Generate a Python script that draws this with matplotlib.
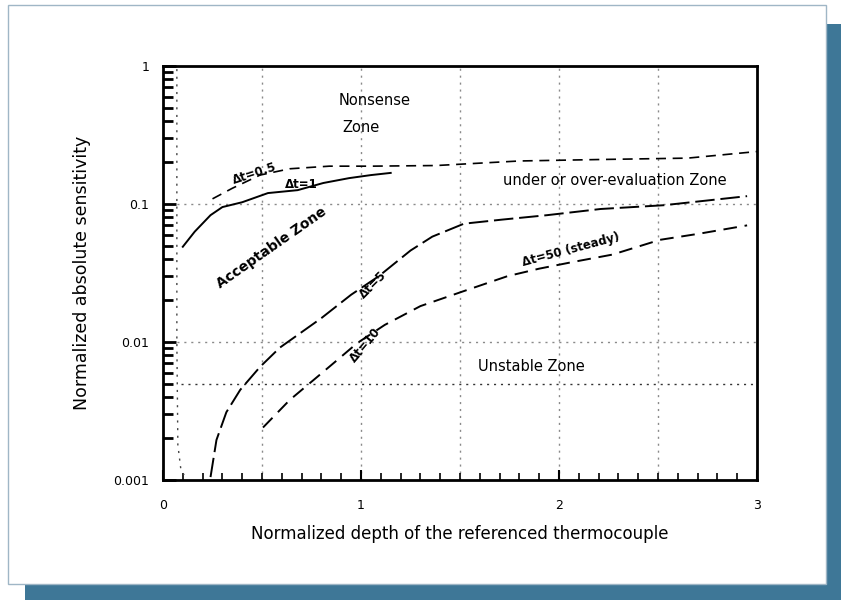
import numpy as np
import matplotlib
matplotlib.use("Agg")
import matplotlib.pyplot as plt
from matplotlib.patches import Rectangle
from matplotlib.ticker import FixedLocator, NullFormatter, MultipleLocator

# sensitivity curves: normalised depth -> normalised absolute sensitivity
x_c0 = [0.07, 0.07, 0.07, 0.075, 0.09, 0.12]
y_c0 = [0.95, 0.1, 0.01, 0.0018, 0.0012, 0.001]

x_c1 = [0.10, 0.16, 0.24, 0.30, 0.40, 0.53, 0.68, 0.81, 0.94, 1.05, 1.15]
y_c1 = [0.049, 0.063, 0.083, 0.095, 0.103, 0.12, 0.126, 0.142, 0.154, 0.162, 0.168]

x_c2 = [0.25, 0.35, 0.49, 0.64, 0.84, 1.05, 1.38, 1.8, 2.2, 2.65, 3.0]
y_c2 = [0.109, 0.13, 0.162, 0.18, 0.188, 0.188, 0.19, 0.205, 0.21, 0.215, 0.24]

x_c3 = [0.24, 0.27, 0.32, 0.39, 0.49, 0.59, 0.80, 0.95, 1.09, 1.25, 1.36, 1.52,
        1.71, 1.94, 2.21, 2.53, 2.95]
y_c3 = [0.00105, 0.00195, 0.0031, 0.0045, 0.0066, 0.0091, 0.0149, 0.022, 0.030,
        0.046, 0.058, 0.072, 0.077, 0.083, 0.092, 0.098, 0.114]

x_c4 = [0.505, 0.64, 0.78, 0.88, 0.98, 1.12, 1.30, 1.52, 1.74, 1.90, 2.07, 2.27,
        2.51, 2.71, 2.95]
y_c4 = [0.0024, 0.0038, 0.0056, 0.0074, 0.0098, 0.0133, 0.0182, 0.0234, 0.030,
        0.034, 0.038, 0.043, 0.055, 0.061, 0.070]

unstable_limit = 0.005

W, H = 843, 600
fig = plt.figure(figsize=(W / 100, H / 100), dpi=100)
fig.patch.set_facecolor("white")

# panel with drop shadow
shadow = "#3e7797"
fig.patches.append(Rectangle((826 / W, 0), 15 / W, 1 - 24 / H, transform=fig.transFigure,
                             facecolor=shadow, edgecolor="none", zorder=0))
fig.patches.append(Rectangle((25 / W, 0), 816 / W, 16 / H, transform=fig.transFigure,
                             facecolor=shadow, edgecolor="none", zorder=0))
fig.patches.append(Rectangle((8 / W, 16 / H), 818 / W, 1 - 21 / H, transform=fig.transFigure,
                             facecolor="white", edgecolor="#9fb6c6", lw=1, zorder=1))

ax = fig.add_axes([163 / W, 1 - 480 / H, 594 / W, 414 / H])
ax.set_zorder(2)
ax.set_yscale("log")
ax.set_xlim(0, 3)
ax.set_ylim(0.001, 1)

for s in ax.spines.values():
    s.set_linewidth(2)

# grid
for gx in [0.5, 1.0, 1.5, 2.0, 2.5]:
    ax.axvline(gx, color="#8a8a8a", lw=1, ls=(0, (1.5, 3.5)), zorder=1)
for gy in [0.1, 0.01]:
    ax.axhline(gy, color="#8a8a8a", lw=1, ls=(0, (1.5, 3.5)), zorder=1)
ax.axhline(unstable_limit, xmin=0.03, color="#333333", lw=1, ls=(0, (1.5, 3.5)), zorder=1)

# curves
ax.plot(x_c0, y_c0, color="#444444", lw=1, ls=(0, (1.5, 4)))
ax.plot(x_c1, y_c1, color="black", lw=1.4)
ax.plot(x_c2, y_c2, color="black", lw=1.2, ls=(0, (6, 4)))
ax.plot(x_c3, y_c3, color="black", lw=1.4, ls=(0, (10, 3)))
ax.plot(x_c4, y_c4, color="black", lw=1.4, ls=(0, (7, 4)))

# ticks
ax.yaxis.set_major_locator(FixedLocator([0.001, 0.01, 0.1, 1]))
ax.set_yticklabels(["0.001", "0.01", "0.1", "1"])
minor = [m * 10.0 ** e for e in (-3, -2, -1) for m in range(2, 10)]
ax.yaxis.set_minor_locator(FixedLocator(minor))
ax.yaxis.set_minor_formatter(NullFormatter())
ax.xaxis.set_major_locator(FixedLocator([0, 1, 2, 3]))
ax.xaxis.set_minor_locator(MultipleLocator(0.1))
ax.tick_params(axis="both", which="both", direction="in", top=False, right=False)
ax.tick_params(axis="y", which="major", length=9, width=2, labelsize=9, pad=10)
ax.tick_params(axis="y", which="minor", length=7, width=2)
ax.tick_params(axis="x", which="major", length=7, width=1.5, labelsize=9, pad=14)
ax.tick_params(axis="x", which="minor", length=5, width=1.2)

ax.set_xlabel("Normalized depth of the referenced thermocouple", fontsize=12, labelpad=9)
ax.set_ylabel("Normalized absolute sensitivity", fontsize=12.5, labelpad=16)

# zone labels
ax.text(1.07, 0.56, "Nonsense", fontsize=10.5, ha="center", va="center")
ax.text(1.0, 0.36, "Zone", fontsize=10.5, ha="center", va="center")
ax.text(2.28, 0.149, "under or over-evaluation Zone", fontsize=10.5, ha="center", va="center")
ax.text(1.86, 0.0067, "Unstable Zone", fontsize=10.5, ha="center", va="center")
ax.text(0.55, 0.048, "Acceptable Zone", fontsize=10, ha="center", va="center", rotation=35,
        fontweight="bold")

# curve labels
ax.text(0.46, 0.165, "Δt=0.5", fontsize=8.5, ha="center", va="center", rotation=18,
        fontweight="bold")
ax.text(0.70, 0.139, "Δt=1", fontsize=8.5, ha="center", va="center", fontweight="bold")
ax.text(1.06, 0.026, "Δt=5", fontsize=8.5, ha="center", va="center", rotation=45,
        fontweight="bold")
ax.text(1.02, 0.0095, "Δt=10", fontsize=8.5, ha="center", va="center", rotation=50,
        fontweight="bold")
ax.text(2.06, 0.047, "Δt=50 (steady)", fontsize=8.5, ha="center", va="center", rotation=15,
        fontweight="bold")

fig.savefig("out.png", dpi=100, facecolor=fig.get_facecolor())
